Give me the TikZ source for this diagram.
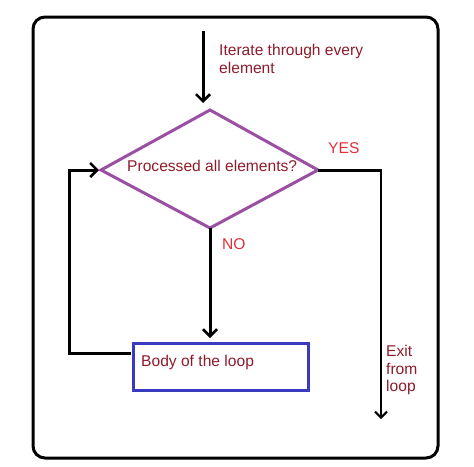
\documentclass[tikz,border=0pt]{standalone}
\usepackage{fontspec}
\setmainfont{Liberation Sans}
\usetikzlibrary{arrows.meta,shapes.geometric}
\definecolor{txtred}{HTML}{8E1B2C}
\definecolor{lblred}{HTML}{E0303A}
\definecolor{diapurple}{HTML}{9B4FA3}
\definecolor{boxblue}{HTML}{3A3AC0}
\begin{document}
\begin{tikzpicture}[x=1pt,y=-1pt,
  flow/.style={line width=3pt,-{Straight Barb[length=7pt,width=14pt,line width=2.5pt]}},
  txt/.style={text=txtred,font=\fontsize{15.6}{17.2}\selectfont,inner sep=0pt,anchor=west,align=left},
  lbl/.style={text=lblred,font=\fontsize{15.6}{17}\selectfont,inner sep=0pt,anchor=west}]
\useasboundingbox (0,0) rectangle (474,466);
\draw[line width=3pt,rounded corners=12pt] (33,17) rectangle (438,458);
% diamond
\coordinate (dt) at (210,110);
\coordinate (dl) at (101,170);
\coordinate (dr) at (318,170);
\coordinate (db) at (210,228);
\draw[diapurple,line width=3pt,line join=miter] (dt) -- (dr) -- (db) -- (dl) -- cycle;
\node[txt,anchor=west] (q) at (127,166) {Processed all elements?};
% box
\node[draw=boxblue,line width=3pt,minimum width=175pt,minimum height=47pt,inner sep=0pt,anchor=north west] (body) at (132,342) {};
\node[txt] (bodyt) at (141,362) {Body of the loop};
% top arrow
\coordinate (start) at (203,31);
\draw[flow] (start) -- (203,103);
\node[txt] (iter) at (219,59) {Iterate through every\\element};
% NO arrow
\coordinate (bend) at (210,338);
\draw[flow] (db) -- (bend);
\node[lbl] (no) at (222,244) {NO};
% YES path
\coordinate (yc) at (381,170);
\coordinate (exit) at (381,419);
\draw[line width=3pt] (dr) -- (382,170);
\draw[line width=2pt,-{Straight Barb[length=6pt,width=12pt,line width=2pt]}] (381,169) -- (exit);
\node[lbl] (yes) at (328,148) {YES};
\node[txt] (ex) at (386,370) {Exit\\from\\loop};
% loop back
\coordinate (lb) at (69,353);
\coordinate (lt) at (69,170);
\draw[flow] (131,353) -- (lb) -- (lt) -- (99,170);
\end{tikzpicture}
\end{document}
